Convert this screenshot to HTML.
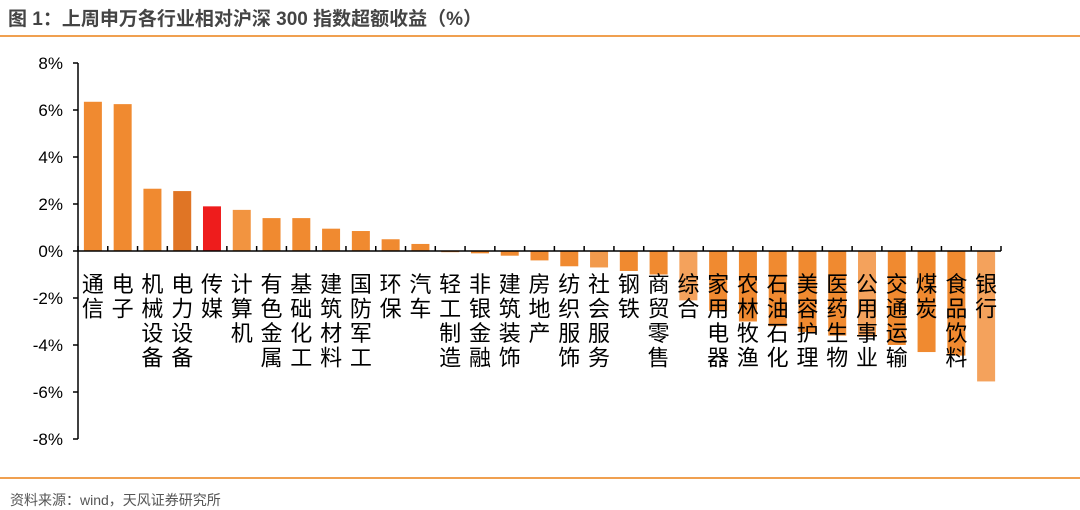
<!DOCTYPE html>
<html><head><meta charset="utf-8">
<style>
body{margin:0;width:1080px;height:510px;background:#fff;overflow:hidden;font-family:"Liberation Sans","Noto Sans CJK SC",sans-serif;}
#title{position:absolute;left:8px;top:4px;font-size:19px;font-weight:bold;color:#444;}
.rule{position:absolute;left:0;width:1080px;height:2px;background:#f0a050;}
#src{position:absolute;left:10px;top:490px;font-size:14px;color:#555;}
</style></head><body>
<div id="title">图 1：上周申万各行业相对沪深 300 指数超额收益（%）</div>
<div class="rule" style="top:35px"></div>
<div class="rule" style="top:477px"></div>
<div id="src">资料来源：wind，天风证券研究所</div>
<svg id="chart" width="1080" height="510" style="position:absolute;left:0;top:0"></svg>
<script>
const categories=["通信","电子","机械设备","电力设备","传媒","计算机","有色金属","基础化工","建筑材料","国防军工","环保","汽车","轻工制造","非银金融","建筑装饰","房地产","纺织服饰","社会服务","钢铁","商贸零售","综合","家用电器","农林牧渔","石油石化","美容护理","医药生物","公用事业","交通运输","煤炭","食品饮料","银行"];
const values=[6.35,6.25,2.65,2.55,1.9,1.75,1.4,1.4,0.95,0.85,0.5,0.3,-0.05,-0.1,-0.2,-0.4,-0.65,-0.7,-0.85,-1.0,-2.1,-2.55,-3.0,-3.2,-3.45,-3.6,-3.65,-4.0,-4.3,-4.45,-5.55];
const colors=["#f08a30","#f08a30","#f08a30","#e07525","#ee1c1c","#f29440","#f08a30","#f08a30","#f08a30","#f08a30","#f08a30","#f08a30","#f08a30","#f08a30","#f08a30","#f08a30","#f08a30","#f29a4c","#f08a30","#f08a30","#f4a25c","#f08a30","#f08a30","#f08a30","#f08a30","#f08a30","#f4a25c","#f08a30","#f08a30","#f08a30","#f4a25c"];
const ticks=[8,6,4,2,0,-2,-4,-6,-8];
const NS="http://www.w3.org/2000/svg";
const svg=document.getElementById('chart');
const x0=78,x1=1001,yTop=63,yBot=439,vmax=8,vmin=-8;
const y=v=>yTop+(vmax-v)/(vmax-vmin)*(yBot-yTop);
const bw=(x1-x0)/categories.length;
const xc=i=>x0+bw*(i+0.5);
function mk(t,a){const e=document.createElementNS(NS,t);for(const k in a)e.setAttribute(k,a[k]);svg.appendChild(e);return e;}
let ax=mk('line',{x1:x0,x2:x0,y1:yTop,y2:yBot,stroke:'#000','stroke-width':1.5});


ticks.forEach(t=>{
 const l=mk('line',{x1:x0-5,x2:x0,y1:y(t),y2:y(t),stroke:'#000','stroke-width':1.5});
 
 
 const tx=mk('text',{x:x0-15,y:y(t)+6,'text-anchor':'end','font-size':17,fill:'#000'});
 tx.textContent=t+'%';
 
 
});
values.forEach((v,i)=>{
 const top=Math.min(y(v),y(0)),h=Math.abs(y(v)-y(0));
 const r=mk('rect',{x:xc(i)-9,y:top,width:18,height:h,fill:colors[i]});
 
 
});
let xa=mk('line',{x1:x0,x2:x1,y1:y(0),y2:y(0),stroke:'#000','stroke-width':1.5});


for(let i=0;i<=categories.length;i++){
 const l=mk('line',{x1:x0+bw*i,x2:x0+bw*i,y1:y(0)-5,y2:y(0),stroke:'#000','stroke-width':1.5});
 
 
}
categories.forEach((c,i)=>{
 const t=mk('text',{x:xc(i),'text-anchor':'middle','font-size':22,fill:'#000'});
 
 
 [...c].forEach((s,k)=>{const sp=document.createElementNS(NS,'tspan');sp.setAttribute('x',xc(i));sp.setAttribute('y',292+k*24.5);sp.textContent=s;t.appendChild(sp);});
});
</script>
</body></html>
